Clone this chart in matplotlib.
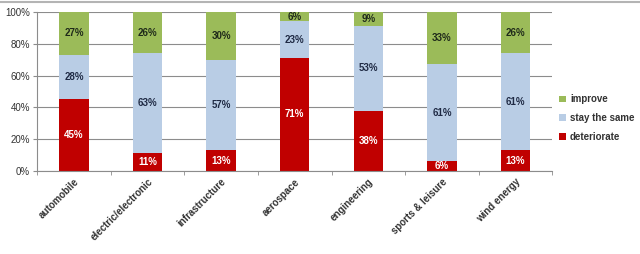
import matplotlib.pyplot as plt
import numpy as np

categories = ["automobile", "electric/electronic", "infrastructure", "aerospace",
              "engineering", "sports & leisure", "wind energy"]
deteriorate = [45, 11, 13, 71, 38, 6, 13]
stay_same = [28, 63, 57, 23, 53, 61, 61]
improve = [27, 26, 30, 6, 9, 33, 26]
y_ticks = [0, 20, 40, 60, 80, 100]

plt.rcParams['font.family'] = ['Liberation Sans', 'DejaVu Sans']
fig = plt.figure(figsize=(6.4, 2.54), dpi=100)
ax = fig.add_axes([0.058, 0.327, 0.805, 0.626])

x = np.arange(len(categories))
w = 0.4
series = [
    ("deteriorate", deteriorate, "#C00000", "white"),
    ("stay the same", stay_same, "#B9CDE5", "#1F2A44"),
    ("improve", improve, "#9BBB59", "#1F2A1A"),
]
bottom = np.zeros(len(categories))
handles = []
for name, vals, col, tcol in series:
    vals = np.array(vals)
    b = ax.bar(x, vals, w, bottom=bottom, color=col, label=name, zorder=2)
    handles.append(b)
    for xi, v, b0 in zip(x, vals, bottom):
        ax.text(xi, b0 + v / 2, f"{v}%", ha='center', va='center',
                fontsize=7, fontweight='bold', color=tcol, zorder=3)
    bottom = bottom + vals

ax.set_xlim(-0.5, len(categories) - 0.5)
ax.set_ylim(0, 100)
ax.set_yticks(y_ticks)
ax.set_yticklabels([f"{t}%" for t in y_ticks], fontsize=7, color="#333333")
ax.yaxis.grid(True, color="#8C8C8C", linewidth=0.8, zorder=0)
ax.set_axisbelow(True)
ax.tick_params(axis='y', length=3, color="#8C8C8C", pad=2)

ax.set_xticks(x)
ax.set_xticklabels(categories, rotation=45, ha='right', rotation_mode='anchor',
                   fontsize=7, fontweight='bold', color="#333333")
ax.tick_params(axis='x', length=0, pad=4)
ax.set_xticks(np.arange(len(categories) + 1) - 0.5, minor=True)
ax.tick_params(axis='x', which='minor', length=3, color="#8C8C8C")

for s in ['top', 'right']:
    ax.spines[s].set_visible(False)
for s in ['left', 'bottom']:
    ax.spines[s].set_color("#8C8C8C")

leg = fig.legend(handles[::-1], [h.get_label() for h in handles[::-1]],
                 loc='center left', bbox_to_anchor=(0.868, 0.535),
                 frameon=False, fontsize=7, handlelength=0.7, handleheight=0.7,
                 labelspacing=0.9, handletextpad=0.4, borderaxespad=0)
for t in leg.get_texts():
    t.set_fontweight('bold')
    t.set_color("#333333")

# thin chart border line along the top edge
fig.add_artist(plt.Line2D([0, 1], [0.993, 0.993], color="#B4B4B4", linewidth=1.5, zorder=5))

fig.savefig("out.png", dpi=100)
